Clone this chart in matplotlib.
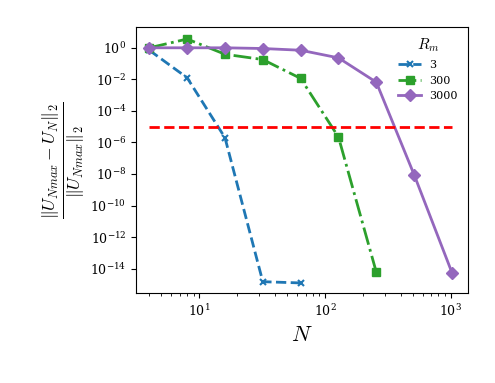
import matplotlib
matplotlib.use("Agg")
import matplotlib.pyplot as plt
import numpy as np

plt.rcParams["font.family"] = "serif"
plt.rcParams["font.serif"] = ["DejaVu Serif"]
plt.rcParams["mathtext.fontset"] = "cm"

N_3 = [4, 8, 16, 32, 64]
err_3 = [0.7, 1.26e-2, 2e-6, 1.5e-15, 1.25e-15]

N_300 = [4, 8, 16, 32, 64, 128, 256]
err_300 = [1.0, 3.6, 0.39, 0.18, 1.15e-2, 2.2e-6, 6e-15]

N_3000 = [4, 8, 16, 32, 64, 128, 256, 512, 1024]
err_3000 = [1.0, 1.0, 1.0, 0.9, 0.7, 0.23, 6.6e-3, 9e-9, 5.6e-15]

tol = 1e-5
tol_x = [4, 1024]

fig = plt.figure(figsize=(4.95, 3.83), dpi=100)
ax = fig.add_axes([0.2747, 0.235, 0.6708, 0.695])

ax.plot(N_3, err_3, "--", color="tab:blue", marker="x", lw=2, ms=5, mew=1.5, label="3")
ax.plot(N_300, err_300, "-.", color="tab:green", marker="s", lw=2, ms=6, label="300")
ax.plot(N_3000, err_3000, "-", color="tab:purple", marker="D", lw=2, ms=6, label="3000")
ax.plot(tol_x, [tol, tol], "--", color="red", lw=2)

ax.set_xscale("log")
ax.set_yscale("log")
ax.set_xlim(10**0.496, 10**3.138)
ax.set_ylim(10**-15.54, 10**1.33)
ax.set_yticks([10.0**k for k in range(-14, 1, 2)])
ax.yaxis.set_minor_locator(matplotlib.ticker.NullLocator())
ax.tick_params(labelsize=9)

ax.set_xlabel("$N$", fontsize=16, labelpad=4)
ax.set_ylabel(r"$\frac{\|U_{Nmax}-U_N\|_2}{\|U_{Nmax}\|_2}$", fontsize=18, labelpad=2)

leg = ax.legend(title="$R_m$", frameon=False, loc="upper right", fontsize=8,
                title_fontsize=11)

plt.savefig("out.png", dpi=100)
